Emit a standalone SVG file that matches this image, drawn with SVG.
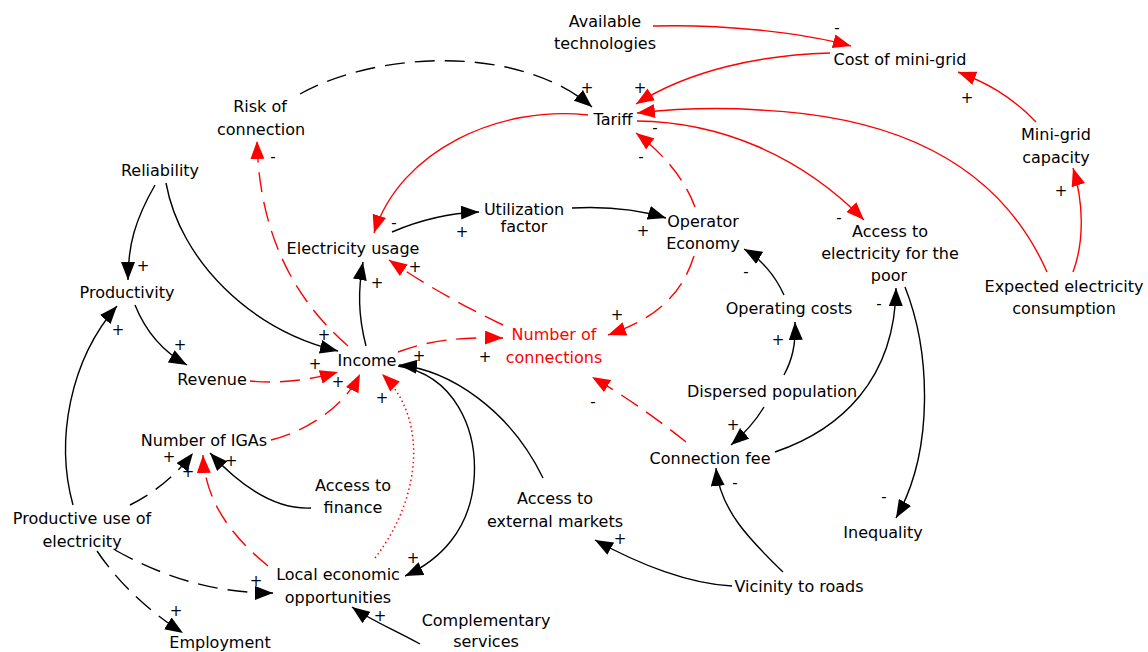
<svg xmlns="http://www.w3.org/2000/svg" width="1148" height="652" viewBox="0 0 1148 652">
<style>
.n{font-family:"DejaVu Sans",sans-serif;font-size:16px;fill:#000;text-anchor:middle}
.r{fill:#f00}
.s{font-family:"DejaVu Sans",sans-serif;font-size:15px;fill:#000;text-anchor:middle}
.k{fill:none;stroke:#000;stroke-width:1.4}
.rd{fill:none;stroke:#f00;stroke-width:1.4}
.d{stroke-dasharray:20 10}
.dot{stroke-dasharray:1.5 3;stroke-width:1.5}
</style>
<defs>
<marker id="mk" markerWidth="20" markerHeight="14" refX="18" refY="7" orient="auto" markerUnits="userSpaceOnUse"><path d="M0,0 L18,7 L0,14 z" fill="#000"/></marker>
<marker id="mr" markerWidth="20" markerHeight="14" refX="18" refY="7" orient="auto" markerUnits="userSpaceOnUse"><path d="M0,0 L18,7 L0,14 z" fill="#f00"/></marker>
</defs>
<rect width="1148" height="652" fill="#fff"/>
<g id="connectors">
<path class="rd" marker-end="url(#mr)" d="M653,26 C720,24 800,32 851,46"/>
<path class="rd" marker-end="url(#mr)" d="M830,53 C760,55 690,70 636,104"/>
<path class="rd" marker-end="url(#mr)" d="M1047,272 Q980,120 760,110 Q700,106 637,113"/>
<path class="rd" marker-end="url(#mr)" d="M637,121 C720,122 800,155 864,220"/>
<path class="rd" marker-end="url(#mr)" d="M588,115 C500,105 400,150 374,233"/>
<path class="rd" marker-end="url(#mr)" d="M1036,122 C1010,95 985,82 958,72"/>
<path class="rd" marker-end="url(#mr)" d="M1073,272 C1085,240 1083,200 1073,168"/>
<path class="k d" marker-end="url(#mk)" d="M300,94 C380,50 520,45 592,107"/>
<path class="rd d" marker-end="url(#mr)" d="M348,346 Q260,270 257,141"/>
<path class="k" marker-end="url(#mk)" d="M155,185 C135,220 128,245 128,280"/>
<path class="k" marker-end="url(#mk)" d="M166,183 C180,260 250,330 338,351"/>
<path class="k" marker-end="url(#mk)" d="M135,305 C145,330 160,350 187,365"/>
<path class="rd d" marker-end="url(#mr)" d="M250,381 C280,384 310,380 338,372"/>
<path class="k" marker-end="url(#mk)" d="M366,346 C358,315 358,290 363,262"/>
<path class="rd d" marker-end="url(#mr)" d="M271,440 C310,430 345,405 360,374"/>
<path class="rd d" marker-end="url(#mr)" d="M398,352 C430,340 460,337 503,338"/>
<path class="k" marker-end="url(#mk)" d="M543,478 C510,410 450,370 399,365"/>
<path class="k" marker-end="url(#mk)" d="M398,366 C455,375 478,430 474,480 C470,530 440,560 405,576"/>
<path class="rd dot" marker-end="url(#mr)" d="M375,558 C420,500 430,420 382,374"/>
<path class="k" marker-end="url(#mk)" d="M392,232 C420,220 450,213 479,212"/>
<path class="k" marker-end="url(#mk)" d="M572,208 C610,206 640,210 666,218"/>
<path class="rd d" marker-end="url(#mr)" d="M503,325 Q440,295 389,260"/>
<path class="rd d" marker-end="url(#mr)" d="M694,256 C680,300 650,320 608,335"/>
<path class="rd d" marker-end="url(#mr)" d="M695,207 C685,180 665,155 636,133"/>
<path class="k" marker-end="url(#mk)" d="M784,295 C775,275 760,258 744,249"/>
<path class="k" marker-end="url(#mk)" d="M784,375 C792,360 796,345 795,322"/>
<path class="k" marker-end="url(#mk)" d="M764,407 C755,422 745,433 731,445"/>
<path class="rd d" marker-end="url(#mr)" d="M686,442 Q640,405 592,377"/>
<path class="k" marker-end="url(#mk)" d="M775,452 C840,430 895,380 896,288"/>
<path class="k" marker-end="url(#mk)" d="M905,287 C930,350 935,450 896,518"/>
<path class="k" marker-end="url(#mk)" d="M783,572 C750,540 720,510 716,468"/>
<path class="k" marker-end="url(#mk)" d="M732,586 C690,584 640,565 595,540"/>
<path class="k" marker-end="url(#mk)" d="M73,505 C55,440 70,360 117,306"/>
<path class="k d" marker-end="url(#mk)" d="M130,505 C160,490 180,470 193,453"/>
<path class="k" marker-end="url(#mk)" d="M311,508 C270,510 235,480 210,453"/>
<path class="rd d" marker-end="url(#mr)" d="M268,566 C230,535 205,500 203,455"/>
<path class="k d" marker-end="url(#mk)" d="M115,550 C160,575 210,593 273,593"/>
<path class="k d" marker-end="url(#mk)" d="M97,551 C120,585 150,612 183,633"/>
<path class="k" marker-end="url(#mk)" d="M420,644 C395,630 370,620 352,607"/>
<g id="signs">
<text class="s" x="837" y="33">-</text>
<text class="s" x="640" y="93">+</text>
<text class="s" x="587" y="93">+</text>
<text class="s" x="655" y="133">-</text>
<text class="s" x="641" y="162">-</text>
<text class="s" x="967" y="103">+</text>
<text class="s" x="1061" y="196">+</text>
<text class="s" x="273" y="162">-</text>
<text class="s" x="143" y="271">+</text>
<text class="s" x="324" y="340">+</text>
<text class="s" x="180" y="350">+</text>
<text class="s" x="315" y="369">+</text>
<text class="s" x="377" y="288">+</text>
<text class="s" x="338" y="387">+</text>
<text class="s" x="419" y="361">+</text>
<text class="s" x="485" y="362">+</text>
<text class="s" x="413" y="563">+</text>
<text class="s" x="382" y="403">+</text>
<text class="s" x="394" y="228">-</text>
<text class="s" x="462" y="237">+</text>
<text class="s" x="643" y="236">+</text>
<text class="s" x="415" y="272">+</text>
<text class="s" x="617" y="320">+</text>
<text class="s" x="746" y="277">-</text>
<text class="s" x="778" y="345">+</text>
<text class="s" x="733" y="430">+</text>
<text class="s" x="593" y="407">-</text>
<text class="s" x="879" y="309">-</text>
<text class="s" x="884" y="502">-</text>
<text class="s" x="735" y="488">-</text>
<text class="s" x="620" y="544">+</text>
<text class="s" x="118" y="335">+</text>
<text class="s" x="169" y="462">+</text>
<text class="s" x="188" y="477">+</text>
<text class="s" x="231" y="466">+</text>
<text class="s" x="256" y="586">+</text>
<text class="s" x="176" y="616">+</text>
<text class="s" x="380" y="621">+</text>
<text class="s" x="839" y="223">-</text>
</g>
</g>
<g id="available-technologies"><text class="n" x="605" y="27">Available</text><text class="n" x="605" y="49">technologies</text></g>
<g id="cost-of-mini-grid"><text class="n" x="900" y="65">Cost of mini-grid</text></g>
<g id="risk-of-connection"><text class="n" x="260" y="112">Risk of</text><text class="n" x="261" y="135">connection</text></g>
<g id="tariff"><text class="n" x="613" y="125">Tariff</text></g>
<g id="mini-grid-capacity"><text class="n" x="1056" y="140">Mini-grid</text><text class="n" x="1056" y="163">capacity</text></g>
<g id="reliability"><text class="n" x="160" y="176">Reliability</text></g>
<g id="utilization-factor"><text class="n" x="524" y="215">Utilization</text><text class="n" x="524" y="232">factor</text></g>
<g id="operator-economy"><text class="n" x="703" y="227">Operator</text><text class="n" x="703" y="249">Economy</text></g>
<g id="electricity-usage"><text class="n" x="353" y="254">Electricity usage</text></g>
<g id="access-poor"><text class="n" x="890" y="237">Access to</text><text class="n" x="890" y="259">electricity for the</text><text class="n" x="889" y="281">poor</text></g>
<g id="expected-consumption"><text class="n" x="1064" y="292">Expected electricity</text><text class="n" x="1064" y="314">consumption</text></g>
<g id="productivity"><text class="n" x="127" y="298">Productivity</text></g>
<g id="operating-costs"><text class="n" x="789" y="314">Operating costs</text></g>
<g id="income"><text class="n" x="367" y="366">Income</text></g>
<g id="number-of-connections"><text class="n r" x="554" y="340">Number of</text><text class="n r" x="554" y="363">connections</text></g>
<g id="revenue"><text class="n" x="212" y="385">Revenue</text></g>
<g id="dispersed-population"><text class="n" x="772" y="397">Dispersed population</text></g>
<g id="number-of-igas"><text class="n" x="204" y="446">Number of IGAs</text></g>
<g id="connection-fee"><text class="n" x="710" y="464">Connection fee</text></g>
<g id="access-to-finance"><text class="n" x="353" y="491">Access to</text><text class="n" x="353" y="513">finance</text></g>
<g id="access-external-markets"><text class="n" x="555" y="504">Access to</text><text class="n" x="555" y="527">external markets</text></g>
<g id="productive-use"><text class="n" x="82" y="524">Productive use of</text><text class="n" x="82" y="547">electricity</text></g>
<g id="inequality"><text class="n" x="883" y="538">Inequality</text></g>
<g id="local-economic-opportunities"><text class="n" x="338" y="580">Local economic</text><text class="n" x="338" y="603">opportunities</text></g>
<g id="vicinity-to-roads"><text class="n" x="799" y="592">Vicinity to roads</text></g>
<g id="complementary-services"><text class="n" x="486" y="626">Complementary</text><text class="n" x="486" y="647">services</text></g>
<g id="employment"><text class="n" x="220" y="648">Employment</text></g>
</svg>
